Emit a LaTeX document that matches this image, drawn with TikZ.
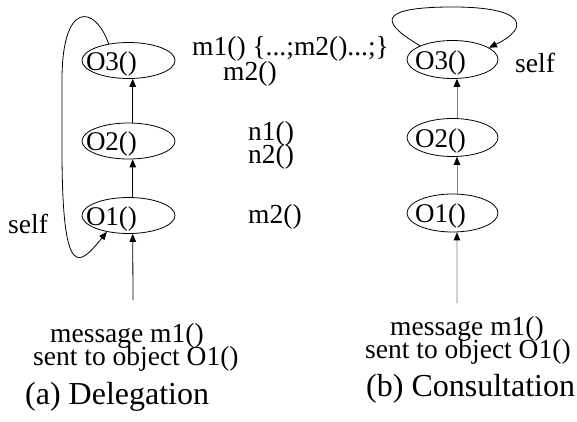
\documentclass[tikz,border=0pt]{standalone}
\usepackage{fontspec}
\setmainfont{Liberation Serif}
\usetikzlibrary{shapes.geometric,arrows.meta}
% text inside an object ellipse, shifted left of the centre
\newcommand\objlabel[2]{\makebox[0pt][l]{\kern#1\relax #2}}
\begin{document}
\begin{tikzpicture}[x=1pt,y=-1pt,
  lbl/.style={anchor=base west, inner sep=0pt, font=\fontsize{27.5}{27.5}\selectfont},
  captxt/.style={anchor=base west, inner sep=0pt, font=\fontsize{32}{32}\selectfont},
  obj/.style={ellipse, draw, line width=0.8pt, inner sep=0pt,
    text height=19pt, text depth=0pt, font=\fontsize{27}{27}\selectfont},
  objL/.style={obj, minimum width=93pt, minimum height=36pt},
  objR/.style={obj, minimum width=91pt, minimum height=38pt},
  arrowtip/.style={-{Triangle[length=8pt,width=6.5pt,color=black]}},
  conn/.style={arrowtip, line width=0.8pt},
  connR/.style={arrowtip, line width=0.9pt, draw=black!50},
  selfloop/.style={arrowtip, line width=0.8pt}
]
\useasboundingbox (0,0) rectangle (577,421);

% ---- (a) Delegation ----
\node[objL] (o3L) at (128.5,60.5) {\objlabel{-42.5pt}{O3()}};
\node[objL] (o2L) at (128.5,141) {\objlabel{-42.5pt}{O2()}};
\node[objL] (o1L) at (128.5,215.5) {\objlabel{-42.5pt}{O1()}};
\coordinate (inL) at (133,300);

\draw[conn] (inL) -- (o1L.283);
\draw[conn] (o1L.77) -- (o2L.283);
\draw[conn] (o2L.77) -- (o3L.283);
\draw[selfloop] (o3L.140) .. controls (95,5) and (62,0) .. (62,80)
  -- (62,150) .. controls (62,285) and (80,265) .. (o1L.217);

\node[lbl] (selfL) at (8,233) {self};
\node[lbl] (m1def) at (192,55) {m1() \{...;m2()...;\}};
\node[lbl] (m2a) at (223,80) {m2()};
\node[lbl] (n1) at (248,140) {n1()};
\node[lbl] (n2) at (248,163) {n2()};
\node[lbl] (m2b) at (248,223) {m2()};

\node[lbl] (msgL) at (50,342) {message m1()};
\node[lbl] (sentL) at (33,365) {sent to object O1()};
\node[captxt] (capL) at (25,404) {(a) Delegation};

% ---- (b) Consultation ----
\node[objR] (o3R) at (452.5,59.5) {\objlabel{-37.5pt}{O3()}};
\node[objR] (o2R) at (452.5,137.5) {\objlabel{-37.5pt}{O2()}};
\node[objR] (o1R) at (452.5,213) {\objlabel{-37.5pt}{O1()}};
\coordinate (inR) at (457,303);

\draw[connR] (inR) -- (o1R.283);
\draw[connR] (o1R.77) -- (o2R.283);
\draw[connR] (o2R.77) -- (o3R.283);
\draw[selfloop] (o3R.157) .. controls (385,25) and (372,8) .. (447,7)
  .. controls (528,6) and (530,28) .. (o3R.18);

\node[lbl] (selfR) at (515,72) {self};
\node[lbl] (msgR) at (390,335) {message m1()};
\node[lbl] (sentR) at (365,358) {sent to object O1()};
\node[captxt] (capR) at (366,396) {(b) Consultation};
\end{tikzpicture}
\end{document}
